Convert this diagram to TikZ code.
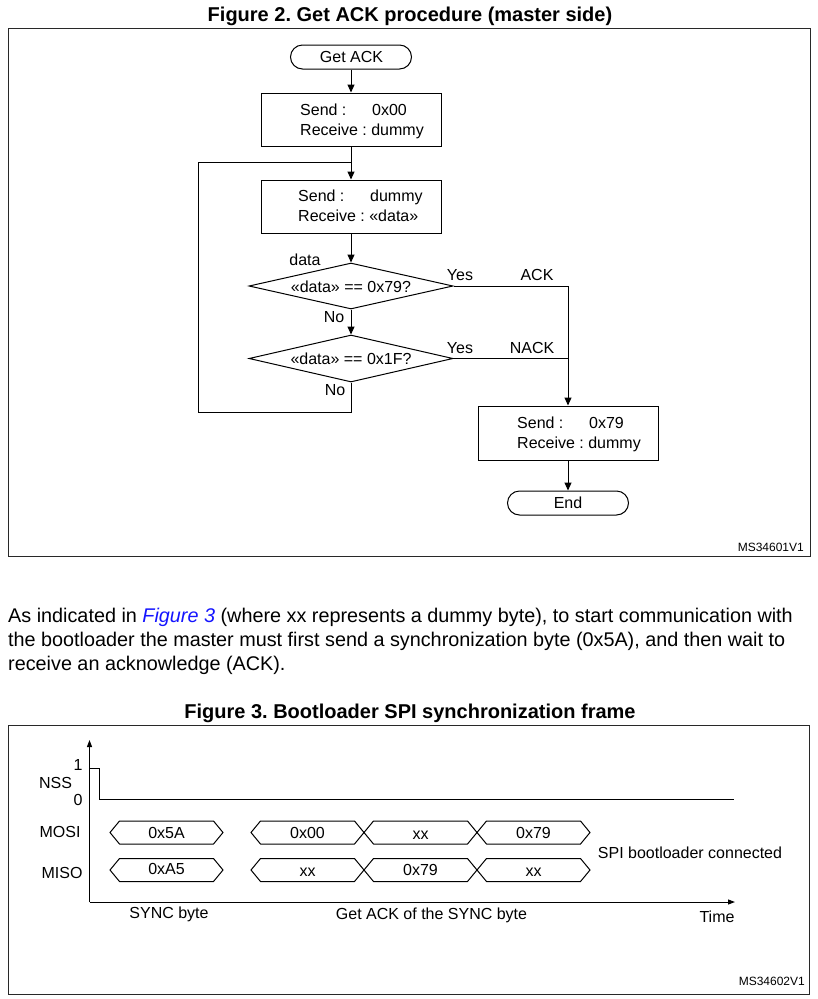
\documentclass[tikz,border=0pt]{standalone}
\usepackage{fontspec}
\setmainfont{Liberation Sans}
\usetikzlibrary{arrows.meta,shapes.geometric}
\definecolor{linkblue}{RGB}{20,20,255}
\definecolor{framegray}{RGB}{40,40,40}
\newcommand{\hexbox}[3]{% a, b, center y
  \draw[hexs] (#1,#3) -- (#1+9.5,#3-11.5) -- (#2-9.5,#3-11.5) -- (#2,#3) -- (#2-9.5,#3+11.5) -- (#1+9.5,#3+11.5) -- cycle;
}
\frenchspacing
\begin{document}
\begin{tikzpicture}[x=1pt,y=-1pt,
  dg/.style={font=\fontsize{16}{19}\selectfont},
  lbl/.style={dg,inner sep=0pt,text height=11.5pt,text depth=0pt},
  small/.style={font=\fontsize{12}{14}\selectfont,inner sep=0pt,text height=8.6pt,text depth=0pt},
  para/.style={font=\fontsize{19.8}{24}\selectfont,inner sep=0pt,anchor=base west},
  ttl/.style={font=\fontsize{20}{24}\selectfont\bfseries,inner sep=0pt,anchor=base},
  frame/.style={draw=framegray,line width=1pt},
  stepbox/.style={draw,line width=1pt,minimum width=180pt,minimum height=53pt,inner sep=0pt},
  term/.style={draw,line width=1pt,rounded corners=12pt,minimum width=121pt,minimum height=24pt,inner sep=0pt},
  dec/.style={draw,line width=1pt,diamond,minimum width=204pt,minimum height=46pt,inner sep=0pt},
  ln/.style={line width=1pt},
  arr/.style={line width=1pt,-{Triangle[length=8pt,width=7pt]}},
  sig/.style={line width=1pt},
  hexs/.style={draw,line width=1pt}
]
\useasboundingbox (0,0) rectangle (818,999);
\fill[white] (0,0) rectangle (818,999);

% ---------- Figure 2 ----------
\node[ttl] (t2) at (410,21) {Figure 2. Get ACK procedure (master side)};
\node[frame,minimum width=802pt,minimum height=528pt,inner sep=0pt] (f2) at (409,292) {};

\node[term] (start) at (351,57) {};
\node[lbl] (starttxt) at (351.5,57) {Get ACK};

\node[stepbox] (b1) at (351,119.5) {};
\node[lbl,anchor=west] (b1a) at (300,110) {Send :};
\node[lbl,anchor=west] (b1b) at (372,110) {0x00};
\node[lbl,anchor=west] (b1c) at (300,129.5) {Receive : dummy};

\coordinate (merge) at (351,162);

\node[stepbox] (b2) at (351,206.5) {};
\node[lbl,anchor=west] (b2a) at (298,196) {Send :};
\node[lbl,anchor=west] (b2b) at (370,196) {dummy};
\node[lbl,anchor=west] (b2c) at (298,216) {Receive : «data»};

\node[dec] (d1) at (351,286) {};
\node[lbl] (d1t) at (351,287) {«data» == 0x79?};
\node[lbl] (datal) at (305,260) {data};
\node[lbl] (yes1) at (460,275) {Yes};
\node[lbl] (ack) at (537,275) {ACK};
\node[lbl] (no1) at (334,317) {No};

\node[dec,minimum height=47pt] (d2) at (351,358.5) {};
\node[lbl] (d2t) at (351,359) {«data» == 0x1F?};
\node[lbl] (yes2) at (460,348) {Yes};
\node[lbl] (nack) at (532,348) {NACK};
\node[lbl] (no2) at (335,390) {No};

\node[stepbox,minimum height=54pt] (b3) at (568,433) {};
\node[lbl,anchor=west] (b3a) at (517,423) {Send :};
\node[lbl,anchor=west] (b3b) at (589,423) {0x79};
\node[lbl,anchor=west] (b3c) at (517,443) {Receive : dummy};

\node[term] (stop) at (568,503) {};
\node[lbl] (stoptxt) at (568,503) {End};

\coordinate (lb) at (198,412);

\draw[arr] (start.south) -- (b1.north);
\draw[arr] (b1.south) -- (b2.north);
\draw[arr] (b2.south) -- (d1.north);
\draw[arr] (d1.south) -- (d2.north);
\draw[arr] (d1.east) -| (b3.north);
\draw[ln] (d2.east) -- (d2.east -| b3.north);
\draw[ln] (d2.south) |- (lb) |- (merge);
\draw[arr] (b3.south) -- (stop.north);

\node[small,anchor=east] (ms1) at (804,547) {MS34601V1};

% ---------- paragraph ----------
\node[para] (p1) at (8,622) {As indicated in \textcolor{linkblue}{\itshape Figure 3} (where xx represents a dummy byte), to start communication with};
\node[para] (p2) at (8,646) {the bootloader the master must first send a synchronization byte (0x5A), and then wait to};
\node[para] (p3) at (8,670) {receive an acknowledge (ACK).};

% ---------- Figure 3 ----------
\node[ttl] (t3) at (410,718) {Figure 3. Bootloader SPI synchronization frame};
\node[frame,minimum width=801pt,minimum height=269pt,inner sep=0pt] (f3) at (408.5,859.5) {};

\coordinate (org) at (89.5,902);
\coordinate (ytop) at (89.5,740);
\coordinate (xend) at (735,902);
\draw[line width=1pt,-{Triangle[length=7pt,width=5pt]}] (org) -- (ytop);
\draw[line width=1pt,-{Triangle[length=7pt,width=5pt]}] (org) -- (xend);

\coordinate (nss0) at (89.5,768);
\coordinate (nss1) at (99,768);
\coordinate (nss2) at (99,799);
\coordinate (nss3) at (734,799);
\draw[sig] (nss0) -- (nss1) -- (nss2) -- (nss3);

\node[lbl] (one) at (78,765) {1};
\node[lbl] (nsslbl) at (55.5,783) {NSS};
\node[lbl] (zero) at (78,800) {0};
\node[lbl] (mosilbl) at (60,832) {MOSI};
\node[lbl] (misolbl) at (62,873) {MISO};

\hexbox{110}{223}{832.5}
\hexbox{251}{364}{832.5}
\hexbox{364}{477}{832.5}
\hexbox{477}{590}{832.5}
\hexbox{110}{223}{870}
\hexbox{251}{364}{870}
\hexbox{364}{477}{870}
\hexbox{477}{590}{870}

\node[lbl] (m1) at (166.5,832.5) {0x5A};
\node[lbl] (m2) at (307.5,832.5) {0x00};
\node[lbl] (m3) at (420.5,834) {xx};
\node[lbl] (m4) at (533.5,832.5) {0x79};
\node[lbl] (s1) at (166.5,869) {0xA5};
\node[lbl] (s2) at (307.5,871) {xx};
\node[lbl] (s3) at (420.5,870) {0x79};
\node[lbl] (s4) at (533.5,871) {xx};

\node[lbl] (conn) at (690,853) {SPI bootloader connected};
\node[lbl] (sync) at (169,913) {SYNC byte};
\node[lbl] (getack) at (431.5,914) {Get ACK of the SYNC byte};
\node[lbl] (time) at (717,917) {Time};
\node[small,anchor=east] (ms2) at (805,981) {MS34602V1};
\end{tikzpicture}
\end{document}
